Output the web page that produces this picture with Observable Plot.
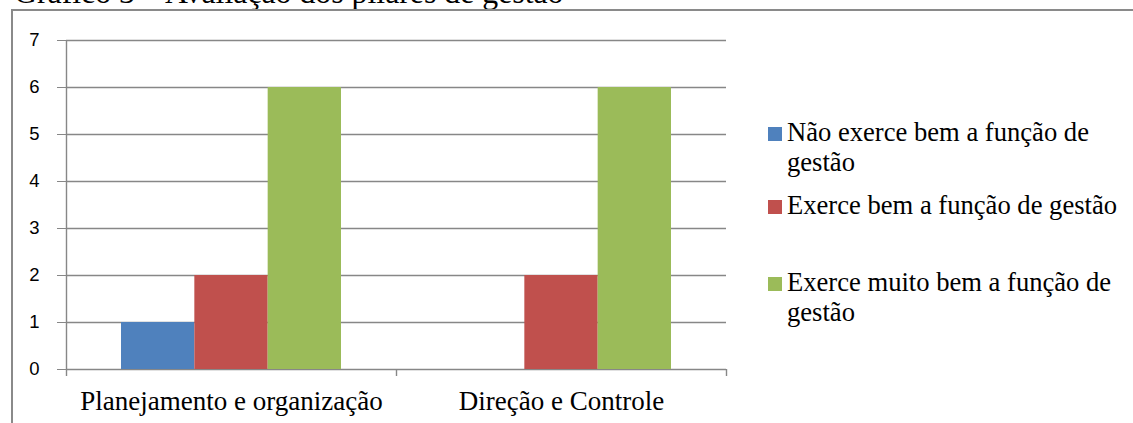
<!DOCTYPE html>
<html>
<head>
<meta charset="utf-8">
<script src="https://cdn.jsdelivr.net/npm/d3@7"></script>
<script src="https://cdn.jsdelivr.net/npm/@observablehq/plot@0.6"></script>
<style>
  html, body { margin: 0; padding: 0; background: #fff; overflow: hidden; }
  #wrap { position: relative; width: 1133px; height: 423px; overflow: hidden; background: #fff; }
  #chart { position: absolute; left: 0; top: 0; }
  #title { position: absolute; left: 14px; top: -23px; font-family: "Liberation Serif", "Times New Roman", serif; font-size: 31.8px; line-height: 31.8px; white-space: nowrap; color: #000; z-index: 2; }
  #box { position: absolute; left: 11px; top: 9px; width: 1200px; height: 500px; border-left: 2px solid #8a8a8a; border-top: 2px solid #8a8a8a; z-index: 3; pointer-events: none; }
  .lg-item { position: absolute; left: 768px; display: flex; align-items: flex-start; font-family: "Liberation Serif", "Times New Roman", serif; font-size: 26.6px; line-height: 30px; color: #000; z-index: 2; }
  .lg-sw { width: 14px; height: 14px; margin-top: 10px; margin-right: 5px; flex: none; }
  .lg-tx { width: 350px; font-family: "Liberation Serif", "Times New Roman", serif; }
</style>
</head>
<body>
<div id="wrap">
  <div id="title"></div>
  <div id="chart"></div>
  <div id="legend"></div>
  <div id="box"></div>
</div>
<script>
// ---- data ----
const titleText = "Gráfico 3 – Avaliação dos pilares de gestão";
const categories = ["Planejamento e organização", "Direção e Controle"];
const series = [
  "Não exerce bem a função de gestão",
  "Exerce bem a função de gestão",
  "Exerce muito bem a função de gestão"
];
const naoExerceBem = [1, 0];
const exerceBem = [2, 2];
const exerceMuitoBem = [6, 6];
const yTicks = [0, 1, 2, 3, 4, 5, 6, 7];
const colors = ["#4F81BD", "#C0504D", "#9BBB59"];

// ---- layout ----
const W = 1133, H = 423;
const mL = 66, mR = 407, mT = 40, mB = 54;
const band = (W - mL - mR) / categories.length;
const groupPad = 55;
const barW = (band - 2 * groupPad) / series.length;
const gray = "#878787";

const valuesBySeries = [naoExerceBem, exerceBem, exerceMuitoBem];
const rows = [];
series.forEach((s, si) => categories.forEach((c, ci) => rows.push({category: c, series: s, value: valuesBySeries[si][ci]})));

document.getElementById("title").textContent = titleText;

const chart = Plot.plot({
  width: W,
  height: H,
  marginLeft: mL,
  marginRight: mR,
  marginTop: mT,
  marginBottom: mB,
  style: {background: "transparent", color: "#000"},
  x: {type: "band", domain: categories, padding: 0, label: null},
  y: {domain: [0, yTicks[yTicks.length - 1]], label: null},
  color: {domain: series, range: colors},
  marks: [
    Plot.ruleY(yTicks, {stroke: gray, strokeWidth: 1.4}),
    ...series.map((s, i) => Plot.barY(rows.filter(r => r.series === s), {
      x: "category", y: "value", fill: "series",
      insetLeft: groupPad + i * barW,
      insetRight: band - groupPad - (i + 1) * barW
    })),
    Plot.ruleX([categories[0]], {x: d => d, dx: -band / 2, y1: 0, y2: yTicks[yTicks.length - 1], stroke: gray, strokeWidth: 1.4}),
    Plot.ruleX(categories, {x: d => d, dx: -band / 2, y1: 0, y2: 0, insetBottom: -7, stroke: gray, strokeWidth: 1.4}),
    Plot.ruleX([categories[categories.length - 1]], {x: d => d, dx: band / 2, y1: 0, y2: 0, insetBottom: -7, stroke: gray, strokeWidth: 1.4}),
    Plot.axisY({ticks: yTicks, tickFormat: d3.format("d"), tickSize: 9, tickPadding: 18, stroke: gray, fill: "#000", fontSize: 18.5, fontFamily: "Liberation Sans, Arial, sans-serif", label: null}),
    Plot.axisX({tickSize: 0, tickPadding: 21, fill: "#000", fontSize: 27, fontFamily: "Liberation Serif, Times New Roman, serif", label: null})
  ]
});
document.getElementById("chart").appendChild(chart);

// ---- legend ----
const legendTops = [117, 190, 267];
const legend = document.getElementById("legend");
series.forEach((s, i) => {
  const item = document.createElement("div");
  item.className = "lg-item";
  item.style.top = legendTops[i] + "px";
  const sw = document.createElement("div");
  sw.className = "lg-sw";
  sw.style.background = colors[i];
  const tx = document.createElement("div");
  tx.className = "lg-tx";
  tx.textContent = s;
  item.appendChild(sw);
  item.appendChild(tx);
  legend.appendChild(item);
});
</script>
</body>
</html>
